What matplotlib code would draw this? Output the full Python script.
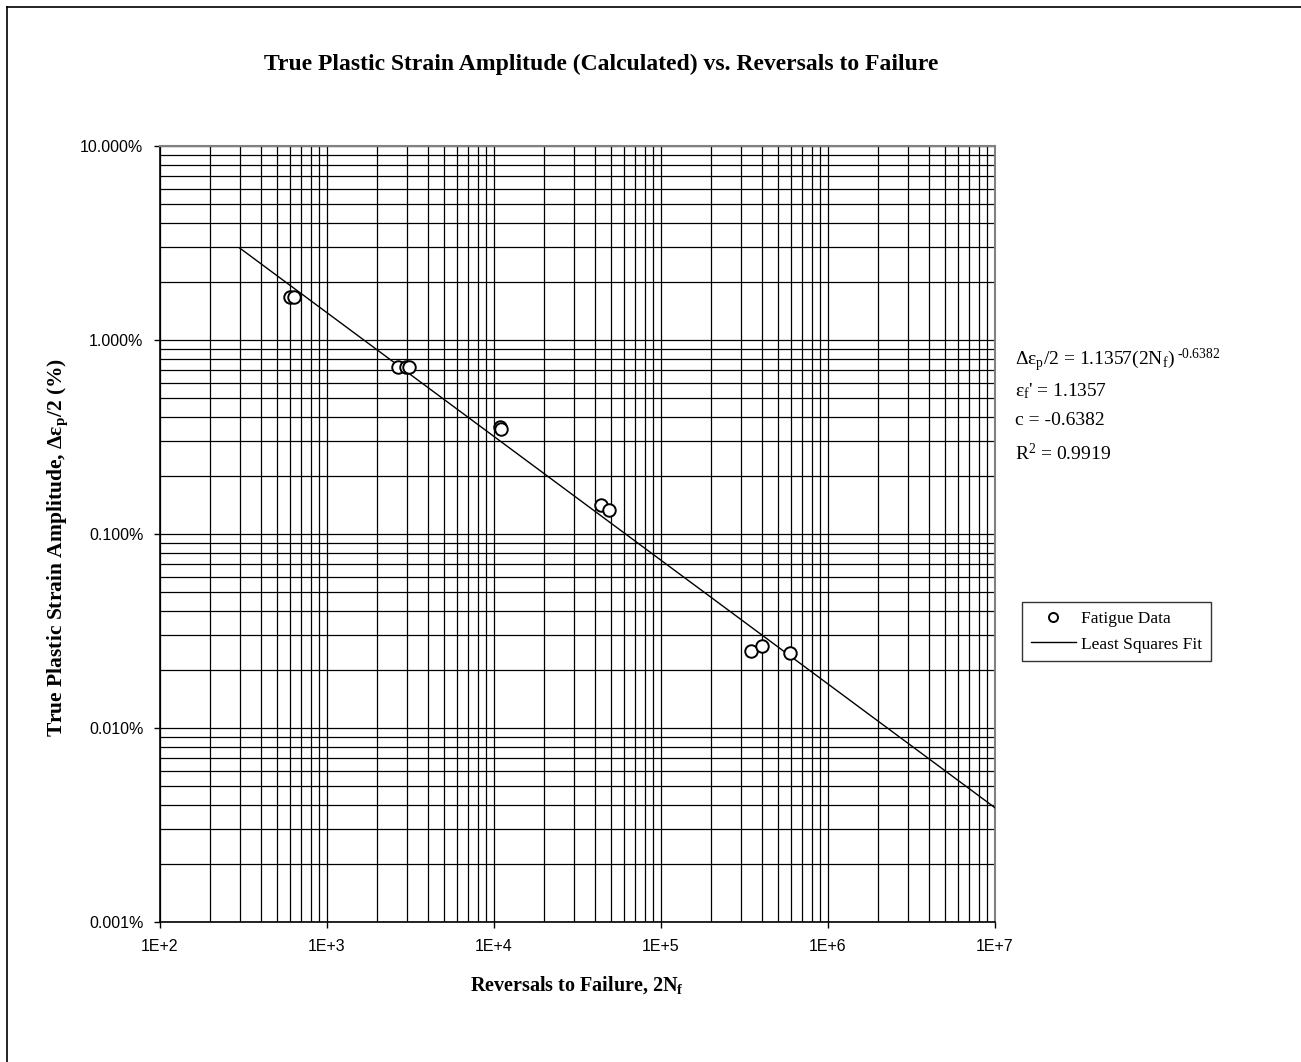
import math
import matplotlib
matplotlib.use("Agg")
import matplotlib.pyplot as plt
from matplotlib.ticker import LogLocator, FuncFormatter, NullFormatter
from matplotlib.lines import Line2D

plt.rcParams['mathtext.fontset'] = 'custom'
plt.rcParams['mathtext.rm'] = 'Liberation Serif'
plt.rcParams['mathtext.it'] = 'Liberation Serif:italic'
plt.rcParams['mathtext.bf'] = 'Liberation Serif:bold'

# ---- data ----
reversals = [600, 637, 2673, 2958, 3105, 10920, 11020, 43950, 48850, 346000, 401000, 590000]
strain_amp = [0.01667, 0.01667, 0.00723, 0.00723, 0.00723, 0.00355, 0.00349,
              0.001406, 0.001334, 0.000250, 0.000265, 0.000243]
fit_x = [300, 1e7]
fit_y = [0.0298, 0.0000388]

title = "True Plastic Strain Amplitude (Calculated) vs. Reversals to Failure"
xlabel = r"Reversals to Failure, 2N$_\mathbf{f}$"
ylabel = r"True Plastic Strain Amplitude, $\mathbf{\Delta\varepsilon_p}$/2 (%)"
eq_lines = [r"Δε$_\mathrm{p}$/2 = 1.1357(2N$_\mathrm{f}$)$^{\text{ -0.6382}}$",
            r"ε$_\mathrm{f}$' = 1.1357",
            "c = -0.6382",
            r"R$^\mathrm{2}$ = 0.9919"]
legend_labels = ["Fatigue Data", "Least Squares Fit"]

W, H = 1301, 1062
fig = plt.figure(figsize=(W / 100, H / 100), dpi=100)
fig.patch.set_facecolor('white')

ax = fig.add_axes([160 / W, 1 - 922 / H, (995 - 160) / W, (922 - 146) / H])
ax.set_xscale('log')
ax.set_yscale('log')
ax.set_xlim(1e2, 1e7)
ax.set_ylim(1e-5, 1e-1)

ax.xaxis.set_major_locator(LogLocator(base=10, numticks=20))
ax.xaxis.set_minor_locator(LogLocator(base=10, subs=range(2, 10), numticks=100))
ax.yaxis.set_major_locator(LogLocator(base=10, numticks=20))
ax.yaxis.set_minor_locator(LogLocator(base=10, subs=range(2, 10), numticks=100))
ax.xaxis.set_major_formatter(FuncFormatter(lambda v, p: "1E+%d" % round(math.log10(v))))
ax.yaxis.set_major_formatter(FuncFormatter(lambda v, p: "%.3f%%" % (v * 100)))
ax.xaxis.set_minor_formatter(NullFormatter())
ax.yaxis.set_minor_formatter(NullFormatter())

ax.grid(True, which='both', color='black', linewidth=0.9)
ax.set_axisbelow(True)
ax.tick_params(which='major', direction='out', length=4, width=1, color='black',
               labelsize=11.5, pad=8)
ax.tick_params(which='minor', length=0)
for lab in ax.get_xticklabels() + ax.get_yticklabels():
    lab.set_fontfamily('Liberation Sans')

for s in ['left', 'bottom']:
    ax.spines[s].set_color('black')
    ax.spines[s].set_linewidth(1.2)
for s in ['top', 'right']:
    ax.spines[s].set_color('#808080')
    ax.spines[s].set_linewidth(1.5)

ln_fit, = ax.plot(fit_x, fit_y, color='black', linewidth=1.0, zorder=3)
ln_pts, = ax.plot(reversals, strain_amp, linestyle='none', marker='o', markersize=9,
                  markerfacecolor='white', markeredgecolor='black', markeredgewidth=1.4, zorder=4)

serif = 'Liberation Serif'
fig.text(601 / W, 1 - 64 / H, title, ha='center', va='center', fontsize=17,
         fontweight='bold', family=serif)
fig.text(577 / W, 1 - 985 / H, xlabel, ha='center', va='center', fontsize=14.5,
         fontweight='bold', family=serif)
fig.text(58 / W, 1 - 547 / H, ylabel, ha='center', va='center', fontsize=15.5,
         fontweight='bold', family=serif, rotation=90)

eq_y = [365, 396, 425, 460]
for t, yy in zip(eq_lines, eq_y):
    fig.text(1015 / W, 1 - yy / H, t, ha='left', va='baseline', fontsize=14, family=serif)

leg_pts = Line2D([], [], linestyle='none', marker='o', markersize=6.5, markerfacecolor='white',
                 markeredgecolor='black', markeredgewidth=1.4)
leg_line = Line2D([], [], color='black', linewidth=1.0)
leg = fig.legend([leg_pts, leg_line], legend_labels, loc='upper left',
                 bbox_to_anchor=(1022 / W, 1 - 602 / H), prop={'family': serif, 'size': 12.5},
                 frameon=True, fancybox=False, edgecolor='black', handlelength=2.6,
                 borderpad=0.5, labelspacing=0.55, handletextpad=0.3, borderaxespad=0)
leg.get_frame().set_linewidth(1.0)

# outer chart border (left and top visible)
fig.add_artist(Line2D([7 / W, 7 / W], [0, 1 - 7 / H], color='black', linewidth=1.2,
                      transform=fig.transFigure))
fig.add_artist(Line2D([7 / W, 1], [1 - 7 / H, 1 - 7 / H], color='black', linewidth=1.2,
                      transform=fig.transFigure))

fig.savefig('out.png', dpi=100)
